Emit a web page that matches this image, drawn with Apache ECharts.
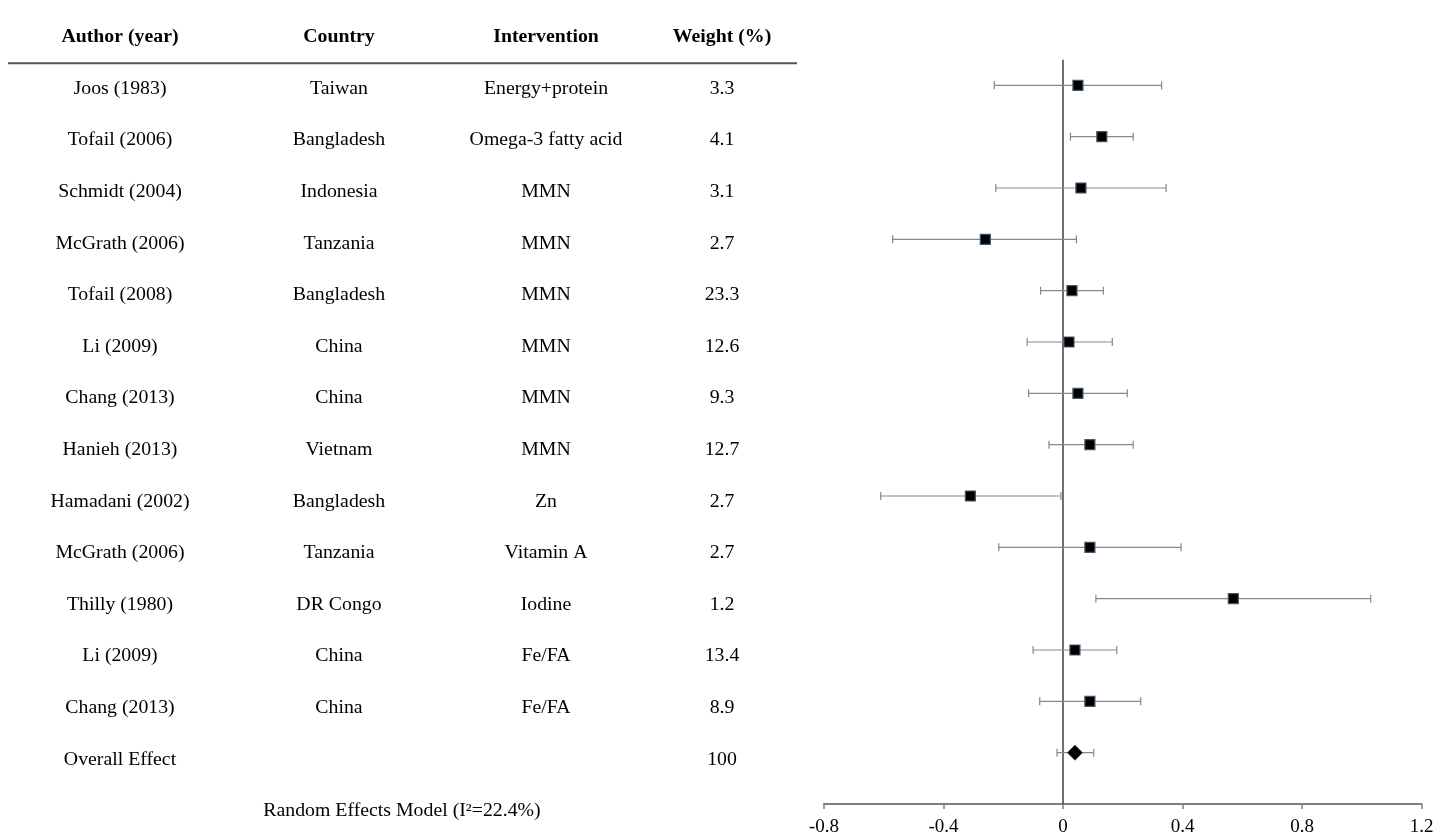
<!DOCTYPE html>
<html>
<head>
<meta charset="utf-8">
<title>Forest plot</title>
<script src="https://cdn.jsdelivr.net/npm/echarts@6/dist/echarts.min.js"></script>
<style>
  html, body { margin: 0; padding: 0; background: #ffffff; }
  #chart { width: 1450px; height: 833px; }
</style>
</head>
<body>
<div id="chart"></div>
<script>
// Study table
const authors = ['Joos (1983)', 'Tofail (2006)', 'Schmidt (2004)', 'McGrath (2006)', 'Tofail (2008)', 'Li (2009)', 'Chang (2013)', 'Hanieh (2013)', 'Hamadani (2002)', 'McGrath (2006)', 'Thilly (1980)', 'Li (2009)', 'Chang (2013)', 'Overall Effect'];
const countries = ['Taiwan', 'Bangladesh', 'Indonesia', 'Tanzania', 'Bangladesh', 'China', 'China', 'Vietnam', 'Bangladesh', 'Tanzania', 'DR Congo', 'China', 'China', ''];
const interventions = ['Energy+protein', 'Omega-3 fatty acid', 'MMN', 'MMN', 'MMN', 'MMN', 'MMN', 'MMN', 'Zn', 'Vitamin A', 'Iodine', 'Fe/FA', 'Fe/FA', ''];
const weights = ['3.3', '4.1', '3.1', '2.7', '23.3', '12.6', '9.3', '12.7', '2.7', '2.7', '1.2', '13.4', '8.9', '100'];
const headers = ['Author (year)', 'Country', 'Intervention', 'Weight (%)'];
const footnote = 'Random Effects Model (I\u00B2=22.4%)';

// Effect sizes with 95% confidence limits (last entry = pooled estimate)
const effects = [0.05, 0.13, 0.06, -0.26, 0.03, 0.02, 0.05, 0.09, -0.31, 0.09, 0.57, 0.04, 0.09, 0.04];
const lower   = [-0.23, 0.025, -0.225, -0.57, -0.075, -0.12, -0.115, -0.047, -0.61, -0.215, 0.11, -0.10, -0.078, -0.02];
const upper   = [0.33, 0.235, 0.345, 0.045, 0.135, 0.165, 0.215, 0.235, -0.007, 0.395, 1.03, 0.18, 0.26, 0.103];

// x axis ticks
const xTicks = { min: -0.8, max: 1.2, step: 0.4 };

// ---- layout ----
const COL_X = [120, 339, 546, 722];   // table column centres (left grid units = px)
const RULE_X = [8, 797];
const FOOT_X = 402;
const FONT = 'Liberation Serif';
const nRows = authors.length;
const rowY = i => nRows - i;          // row 0 at top

function txt(p, s, bold) {
  return {
    type: 'text', x: p[0], y: p[1], scaleX: 1.1,
    style: {
      text: s, x: 0, y: 0, align: 'center', verticalAlign: 'middle',
      fontFamily: FONT, fontSize: 18, fontWeight: bold ? 'bold' : 'normal', fill: '#000'
    }
  };
}

const tableData = authors.map((a, i) => [rowY(i), i]);

const chart = echarts.init(document.getElementById('chart'), null, { renderer: 'canvas' });

const option = {
  backgroundColor: '#ffffff',
  animation: false,
  grid: [
    { left: 0, top: 37.4, width: 810, bottom: 21.4, outerBoundsMode: 'none', containLabel: false },
    { left: 824, top: 34, width: 597.5, bottom: 29, outerBoundsMode: 'none', containLabel: false }
  ],
  xAxis: [
    { gridIndex: 0, type: 'value', min: 0, max: 810, show: false },
    {
      gridIndex: 1, type: 'value', min: xTicks.min, max: xTicks.max, interval: xTicks.step,
      axisLine: { show: true, onZero: false, lineStyle: { color: '#808080', width: 2 } },
      axisTick: { show: true, length: 5, lineStyle: { color: '#808080', width: 1.5 } },
      axisLabel: { color: '#000', fontFamily: FONT, fontSize: 19, margin: 14 },
      splitLine: { show: false }
    }
  ],
  yAxis: [
    { gridIndex: 0, type: 'value', min: 0, max: 15, show: false },
    { gridIndex: 1, type: 'value', min: 0, max: 15, show: false }
  ],
  series: [
    // table header, rule and footnote
    {
      type: 'custom', xAxisIndex: 0, yAxisIndex: 0, silent: true,
      data: [[15]],
      renderItem: (params, api) => {
        const children = headers.map((h, c) => txt(api.coord([COL_X[c], 15]), h, true));
        const a = api.coord([RULE_X[0], 14.5]);
        const b = api.coord([RULE_X[1], 14.5]);
        children.push({ type: 'line', shape: { x1: a[0], y1: a[1], x2: b[0], y2: b[1] }, style: { stroke: '#555555', lineWidth: 2 } });
        children.push(txt(api.coord([FOOT_X, 0]), footnote, false));
        return { type: 'group', children };
      }
    },
    // table body rows
    {
      type: 'custom', xAxisIndex: 0, yAxisIndex: 0, silent: true,
      data: tableData,
      renderItem: (params, api) => {
        const y = api.value(0);
        const i = api.value(1);
        const cells = [authors[i], countries[i], interventions[i], weights[i]];
        const children = [];
        cells.forEach((s, c) => {
          if (s !== '') children.push(txt(api.coord([COL_X[c], y]), s, false));
        });
        return { type: 'group', children };
      }
    },
    // line of no effect
    {
      type: 'line', xAxisIndex: 1, yAxisIndex: 1, silent: true, symbol: 'none',
      data: [[0, 0], [0, nRows + 0.5]],
      lineStyle: { color: '#404040', width: 1.5 }, z: 2
    },
    // confidence intervals
    {
      type: 'custom', xAxisIndex: 1, yAxisIndex: 1, silent: true, z: 3,
      data: lower.map((l, i) => [l, upper[i], rowY(i)]),
      encode: { x: [0, 1], y: 2 },
      renderItem: (params, api) => {
        const lo = api.coord([api.value(0), api.value(2)]);
        const hi = api.coord([api.value(1), api.value(2)]);
        const h = 4;
        const st = { stroke: '#888888', lineWidth: 1.2 };
        return {
          type: 'group',
          children: [
            { type: 'line', shape: { x1: lo[0], y1: lo[1], x2: hi[0], y2: hi[1] }, style: st },
            { type: 'line', shape: { x1: lo[0], y1: lo[1] - h, x2: lo[0], y2: lo[1] + h }, style: st },
            { type: 'line', shape: { x1: hi[0], y1: hi[1] - h, x2: hi[0], y2: hi[1] + h }, style: st }
          ]
        };
      }
    },
    // study estimates
    {
      type: 'scatter', xAxisIndex: 1, yAxisIndex: 1, silent: true, z: 5,
      symbol: 'rect', symbolSize: 10,
      itemStyle: { color: '#000000', borderColor: '#44546a', borderWidth: 1.2, opacity: 1 },
      data: effects.slice(0, nRows - 1).map((e, i) => [e, rowY(i)])
    },
    // pooled estimate
    {
      type: 'scatter', xAxisIndex: 1, yAxisIndex: 1, silent: true, z: 5,
      symbol: 'diamond', symbolSize: 15,
      itemStyle: { color: '#000000', borderColor: '#333f50', borderWidth: 1, opacity: 1 },
      data: [[effects[nRows - 1], rowY(nRows - 1)]]
    }
  ]
};

chart.setOption(option);
</script>
</body>
</html>
